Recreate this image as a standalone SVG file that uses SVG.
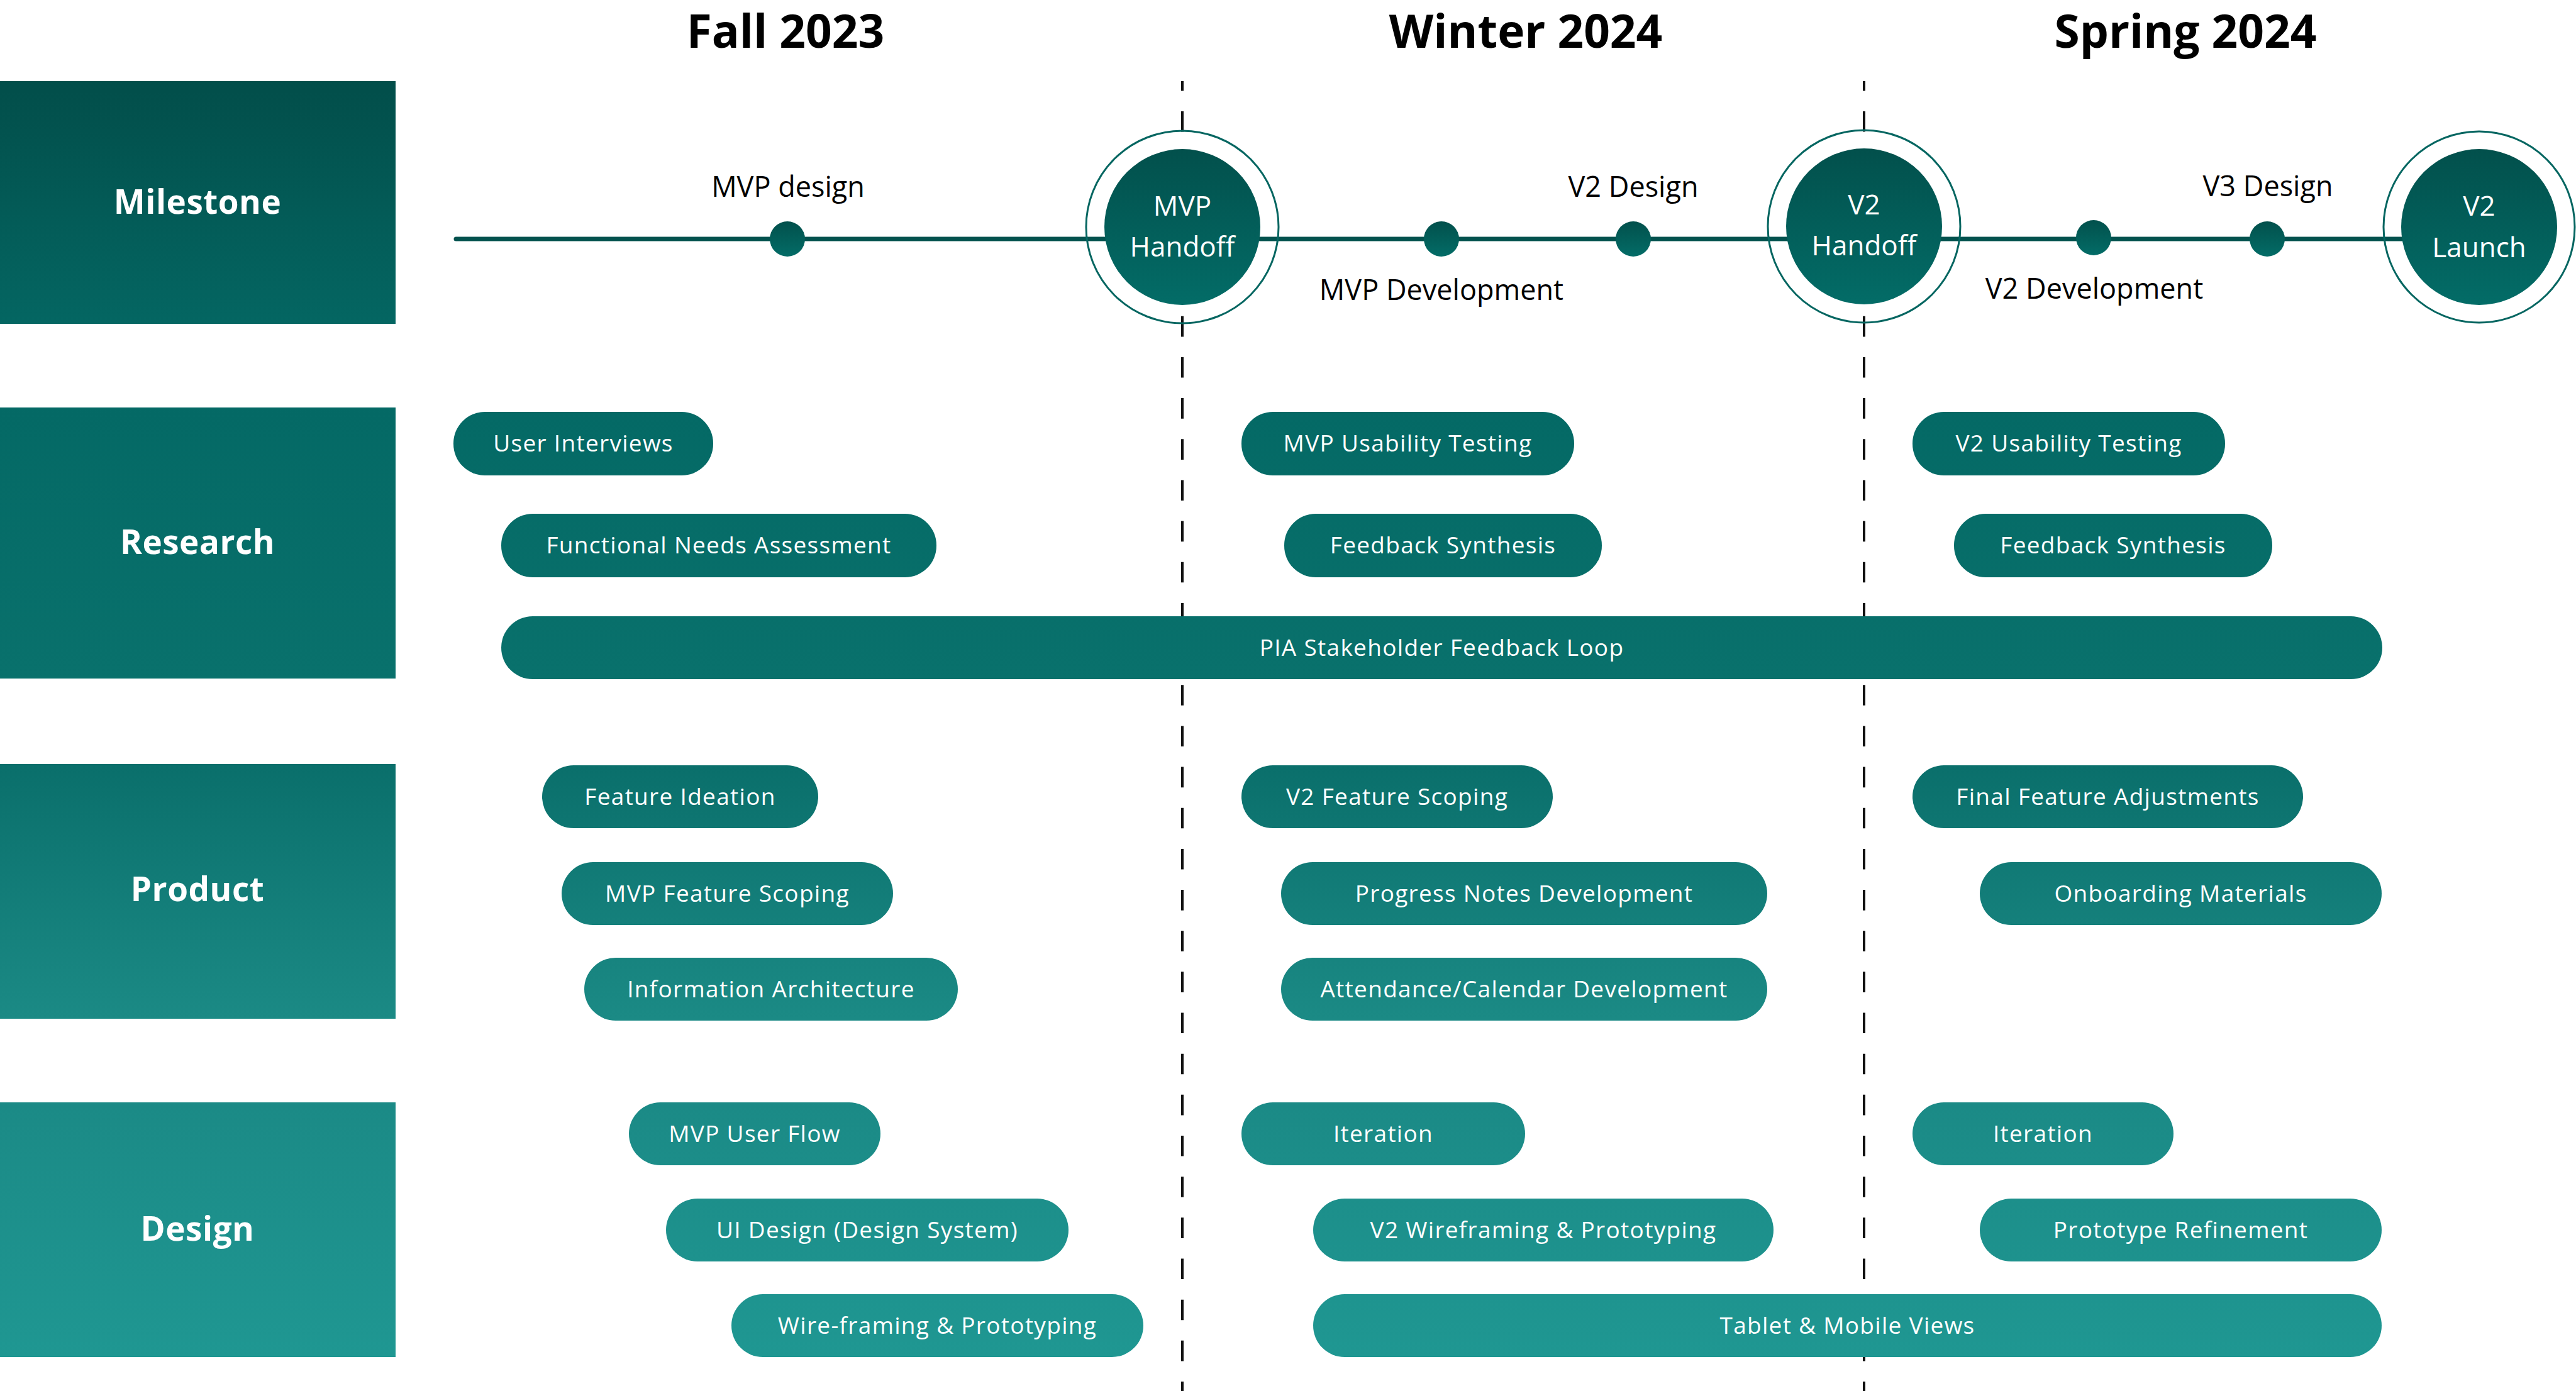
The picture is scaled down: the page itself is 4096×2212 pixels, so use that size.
<svg xmlns="http://www.w3.org/2000/svg" width="4096" height="2212" viewBox="0 0 4096 2212">
<defs>
<linearGradient id="gM" gradientUnits="userSpaceOnUse" x1="0" y1="129" x2="0" y2="515"><stop offset="0" stop-color="#024e4a"/><stop offset="1" stop-color="#046662"/></linearGradient>
<linearGradient id="gR" gradientUnits="userSpaceOnUse" x1="0" y1="648" x2="0" y2="1079"><stop offset="0" stop-color="#046965"/><stop offset="1" stop-color="#09716c"/></linearGradient>
<linearGradient id="gP" gradientUnits="userSpaceOnUse" x1="0" y1="1215" x2="0" y2="1620"><stop offset="0" stop-color="#0a6f6b"/><stop offset="1" stop-color="#1b8a85"/></linearGradient>
<linearGradient id="gD" gradientUnits="userSpaceOnUse" x1="0" y1="1753" x2="0" y2="2158"><stop offset="0" stop-color="#1b8a86"/><stop offset="1" stop-color="#1f9792"/></linearGradient>
<linearGradient id="gC" x1="0" y1="0" x2="0" y2="1"><stop offset="0" stop-color="#02504c"/><stop offset="1" stop-color="#036c67"/></linearGradient>
<style>
.hdr{font-family:"Open Sans","DejaVu Sans",sans-serif;font-weight:700;font-size:73px;fill:#000;text-anchor:middle}
.lane{font-family:"Open Sans","DejaVu Sans",sans-serif;font-weight:700;font-size:53px;fill:#fff;text-anchor:middle;letter-spacing:0.5px}
.ml{font-family:"Open Sans","DejaVu Sans",sans-serif;font-size:45px;fill:#000;text-anchor:middle}
.cl{font-family:"Open Sans","DejaVu Sans",sans-serif;font-size:44px;fill:#fff;text-anchor:middle}
.pt{font-family:"Open Sans","DejaVu Sans",sans-serif;font-size:37px;fill:#fff;text-anchor:middle;letter-spacing:1.3px}
.ring{fill:none;stroke:#056661;stroke-width:3}
.inner{fill:url(#gC)}
.dot{fill:url(#gC)}
.pr{fill:url(#gR)}
.pp{fill:url(#gP)}
.pd{fill:url(#gD)}
.dash{stroke:#111;stroke-width:4;stroke-dasharray:32.6 32.56;stroke-dashoffset:17.16;fill:none}
</style>
</defs>
<rect width="4096" height="2212" fill="#fff"/>

<g id="headers">
<text class="hdr" x="1249" y="76">Fall 2023</text>
<text class="hdr" x="2426" y="76">Winter 2024</text>
<text class="hdr" x="3475" y="76">Spring 2024</text>
</g>

<g id="lane-milestone"><rect x="0" y="129" width="629" height="386" fill="url(#gM)"/><text class="lane" x="314" y="340">Milestone</text></g>
<g id="lane-research"><rect x="0" y="648" width="629" height="431" fill="url(#gR)"/><text class="lane" x="314" y="881">Research</text></g>
<g id="lane-product"><rect x="0" y="1215" width="629" height="405" fill="url(#gP)"/><text class="lane" x="314" y="1433">Product</text></g>
<g id="lane-design"><rect x="0" y="1753" width="629" height="405" fill="url(#gD)"/><text class="lane" x="314" y="1973">Design</text></g>

<g id="connectors">
<line class="dash" x1="1880" y1="129" x2="1880" y2="2212"/>
<line class="dash" x1="2964" y1="129" x2="2964" y2="2212"/>
<line x1="725" y1="380" x2="3900" y2="380" stroke="#03524e" stroke-width="7" stroke-linecap="round"/>
</g>

<g id="ms-mvp-design"><circle class="dot" cx="1252" cy="380" r="28"/><text class="ml" x="1253" y="313">MVP design</text></g>
<g id="ms-mvp-handoff"><circle class="ring" cx="1880" cy="361" r="153"/><circle class="inner" cx="1880" cy="361" r="124"/><text class="cl" x="1880" y="343">MVP</text><text class="cl" x="1880" y="408">Handoff</text></g>
<g id="ms-mvp-dev"><circle class="dot" cx="2292" cy="380" r="28"/><text class="ml" x="2292" y="477">MVP Development</text></g>
<g id="ms-v2-design"><circle class="dot" cx="2597" cy="380" r="28"/><text class="ml" x="2597" y="313">V2 Design</text></g>
<g id="ms-v2-handoff"><circle class="ring" cx="2964" cy="360" r="153"/><circle class="inner" cx="2964" cy="360" r="124"/><text class="cl" x="2964" y="341">V2</text><text class="cl" x="2964" y="406">Handoff</text></g>
<g id="ms-v2-dev"><circle class="dot" cx="3329" cy="378" r="28"/><text class="ml" x="3330" y="475">V2 Development</text></g>
<g id="ms-v3-design"><circle class="dot" cx="3605" cy="380" r="28"/><text class="ml" x="3606" y="312">V3 Design</text></g>
<g id="ms-v2-launch"><circle class="ring" cx="3942" cy="361" r="152"/><circle class="inner" cx="3942" cy="361" r="124"/><text class="cl" x="3942" y="343">V2</text><text class="cl" x="3942" y="409">Launch</text></g>

<g id="r-user-interviews"><rect class="pr" x="721" y="655" width="413" height="101" rx="50"/><text class="pt" x="927.5" y="718">User Interviews</text></g>
<g id="r-mvp-usability"><rect class="pr" x="1974" y="655" width="529" height="101" rx="50"/><text class="pt" x="2238.5" y="718">MVP Usability Testing</text></g>
<g id="r-v2-usability"><rect class="pr" x="3041" y="655" width="497" height="101" rx="50"/><text class="pt" x="3289.5" y="718">V2 Usability Testing</text></g>
<g id="r-functional-needs"><rect class="pr" x="797" y="817" width="692" height="101" rx="50"/><text class="pt" x="1143" y="880">Functional Needs Assessment</text></g>
<g id="r-feedback-1"><rect class="pr" x="2042" y="817" width="505" height="101" rx="50"/><text class="pt" x="2294.5" y="880">Feedback Synthesis</text></g>
<g id="r-feedback-2"><rect class="pr" x="3107" y="817" width="506" height="101" rx="50"/><text class="pt" x="3360" y="880">Feedback Synthesis</text></g>
<g id="r-pia"><rect class="pr" x="797" y="980" width="2991" height="100" rx="50"/><text class="pt" x="2292.5" y="1043">PIA Stakeholder Feedback Loop</text></g>

<g id="p-feature-ideation"><rect class="pp" x="862" y="1217" width="439" height="100" rx="50"/><text class="pt" x="1081.5" y="1280">Feature Ideation</text></g>
<g id="p-mvp-scoping"><rect class="pp" x="893" y="1371" width="527" height="100" rx="50"/><text class="pt" x="1156.5" y="1434">MVP Feature Scoping</text></g>
<g id="p-info-arch"><rect class="pp" x="929" y="1523" width="594" height="100" rx="50"/><text class="pt" x="1226" y="1586">Information Architecture</text></g>
<g id="p-v2-scoping"><rect class="pp" x="1974" y="1217" width="495" height="100" rx="50"/><text class="pt" x="2221.5" y="1280">V2 Feature Scoping</text></g>
<g id="p-progress-notes"><rect class="pp" x="2037" y="1371" width="773" height="100" rx="50"/><text class="pt" x="2423.5" y="1434">Progress Notes Development</text></g>
<g id="p-attendance"><rect class="pp" x="2037" y="1523" width="773" height="100" rx="50"/><text class="pt" x="2423.5" y="1586">Attendance/Calendar Development</text></g>
<g id="p-final-adjust"><rect class="pp" x="3041" y="1217" width="621" height="100" rx="50"/><text class="pt" x="3351.5" y="1280">Final Feature Adjustments</text></g>
<g id="p-onboarding"><rect class="pp" x="3148" y="1371" width="639" height="100" rx="50"/><text class="pt" x="3467.5" y="1434">Onboarding Materials</text></g>

<g id="d-user-flow"><rect class="pd" x="1000" y="1753" width="400" height="100" rx="50"/><text class="pt" x="1200" y="1816">MVP User Flow</text></g>
<g id="d-ui-design"><rect class="pd" x="1059" y="1906" width="640" height="100" rx="50"/><text class="pt" x="1379" y="1969">UI Design (Design System)</text></g>
<g id="d-wireframing"><rect class="pd" x="1163" y="2058" width="655" height="100" rx="50"/><text class="pt" x="1490.5" y="2121">Wire-framing &amp; Prototyping</text></g>
<g id="d-iteration-1"><rect class="pd" x="1974" y="1753" width="451" height="100" rx="50"/><text class="pt" x="2199.5" y="1816">Iteration</text></g>
<g id="d-v2-wireframing"><rect class="pd" x="2088" y="1906" width="732" height="100" rx="50"/><text class="pt" x="2454" y="1969">V2 Wireframing &amp; Prototyping</text></g>
<g id="d-tablet-mobile"><rect class="pd" x="2088" y="2058" width="1699" height="100" rx="50"/><text class="pt" x="2937.5" y="2121">Tablet &amp; Mobile Views</text></g>
<g id="d-iteration-2"><rect class="pd" x="3041" y="1753" width="415" height="100" rx="50"/><text class="pt" x="3248.5" y="1816">Iteration</text></g>
<g id="d-prototype-refine"><rect class="pd" x="3148" y="1906" width="639" height="100" rx="50"/><text class="pt" x="3467.5" y="1969">Prototype Refinement</text></g>
</svg>
